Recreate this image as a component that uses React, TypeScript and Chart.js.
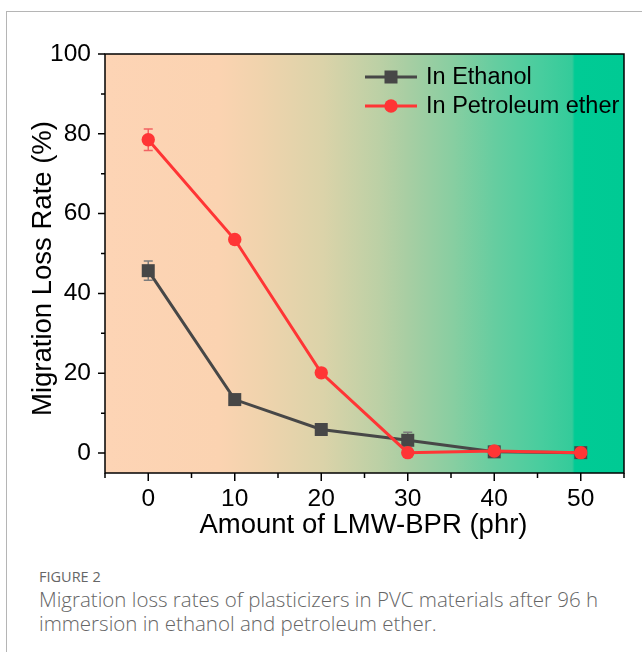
import React, { useEffect, useRef } from "react";
import { Chart, registerables } from "chart.js";

Chart.register(...registerables);

const amounts = [0, 10, 20, 30, 40, 50];
const ethanolValues = [45.7, 13.4, 5.9, 3.2, 0.3, 0.1];
const ethanolErrors = [2.4, 0.5, 0.5, 2.0, 0.5, 0.5];
const petroleumValues = [78.5, 53.5, 20.1, 0.1, 0.5, 0.1];
const petroleumErrors = [2.7, 0.5, 0.5, 0.5, 0.5, 0.5];
const seriesNames = ["In Ethanol", "In Petroleum ether"];
const xTickValues = [-5, 0, 5, 10, 15, 20, 25, 30, 35, 40, 45, 50, 55];
const xLabelValues = [0, 10, 20, 30, 40, 50];
const yTickValues = [0, 10, 20, 30, 40, 50, 60, 70, 80, 90, 100];
const yLabelValues = [0, 20, 40, 60, 80, 100];
const xTitle = "Amount of LMW-BPR (phr)";
const yTitle = "Migration Loss Rate (%)";

const FONT = '"Liberation Sans", Arial, sans-serif';
const GRAY = "#474747";
const RED = "#FF3535";

const gradientStops: [number, string][] = [
  [0, "#FDD4B5"],
  [0.22, "#FBD3B1"],
  [0.3, "#F0D3AD"],
  [0.42, "#DBD3A9"],
  [0.53, "#BBD0A5"],
  [0.58, "#A9CEA3"],
  [0.67, "#88CEA1"],
  [0.75, "#66CDA0"],
  [0.84, "#48CD9E"],
  [0.9, "#34CB9A"],
  [0.905, "#00CB95"],
  [1, "#00CA94"],
];

const decorPlugin = {
  id: "decor",
  beforeDraw(chart: any) {
    const { ctx, chartArea: a } = chart;
    ctx.save();
    const g = ctx.createLinearGradient(a.left, 0, a.right, 0);
    gradientStops.forEach(([o, c]) => g.addColorStop(o, c));
    ctx.fillStyle = g;
    ctx.fillRect(a.left, a.top, a.right - a.left, a.bottom - a.top);
    ctx.restore();
  },
  beforeDatasetsDraw(chart: any) {
    const { ctx } = chart;
    const xs = chart.scales.x;
    const ys = chart.scales.y;
    const sets = [
      { v: ethanolValues, e: ethanolErrors, c: "#7c7c7c" },
      { v: petroleumValues, e: petroleumErrors, c: "#F26262" },
    ];
    ctx.save();
    ctx.lineWidth = 1.5;
    sets.forEach((s) => {
      ctx.strokeStyle = s.c;
      amounts.forEach((a, i) => {
        const px = xs.getPixelForValue(a);
        const top = ys.getPixelForValue(s.v[i] + s.e[i]);
        const bot = ys.getPixelForValue(s.v[i] - s.e[i]);
        ctx.beginPath();
        ctx.moveTo(px, top);
        ctx.lineTo(px, bot);
        ctx.moveTo(px - 4.5, top);
        ctx.lineTo(px + 4.5, top);
        ctx.moveTo(px - 4.5, bot);
        ctx.lineTo(px + 4.5, bot);
        ctx.stroke();
      });
    });
    ctx.restore();
  },
  afterDraw(chart: any) {
    const { ctx, chartArea: a } = chart;
    const xs = chart.scales.x;
    const ys = chart.scales.y;
    ctx.save();
    ctx.strokeStyle = "#000";
    ctx.lineWidth = 1.5;
    ctx.strokeRect(a.left, a.top, a.right - a.left, a.bottom - a.top);
    ctx.beginPath();
    xTickValues.forEach((v) => {
      const px = xs.getPixelForValue(v);
      const len = xLabelValues.includes(v) ? 8 : 5;
      ctx.moveTo(px, a.bottom);
      ctx.lineTo(px, a.bottom + len);
    });
    yTickValues.forEach((v) => {
      const py = ys.getPixelForValue(v);
      const len = yLabelValues.includes(v) ? 7 : 4;
      ctx.moveTo(a.left, py);
      ctx.lineTo(a.left - len, py);
    });
    ctx.stroke();

    // axis titles
    ctx.fillStyle = "#000";
    ctx.font = `27.5px ${FONT}`;
    ctx.textAlign = "center";
    ctx.textBaseline = "alphabetic";
    ctx.fillText(xTitle, (a.left + a.right) / 2 - 1, 533);
    ctx.save();
    ctx.translate(51, (a.top + a.bottom) / 2 + 5);
    ctx.rotate(-Math.PI / 2);
    ctx.fillText(yTitle, 0, 0);
    ctx.restore();

    // legend
    const rows = [
      { name: seriesNames[0], color: GRAY, y: 77, marker: "rect" },
      { name: seriesNames[1], color: RED, y: 106, marker: "circle" },
    ];
    ctx.font = `23.5px ${FONT}`;
    ctx.textAlign = "left";
    ctx.textBaseline = "middle";
    rows.forEach((r) => {
      ctx.strokeStyle = r.color;
      ctx.lineWidth = 3;
      ctx.beginPath();
      ctx.moveTo(365, r.y);
      ctx.lineTo(417, r.y);
      ctx.stroke();
      ctx.fillStyle = r.color;
      if (r.marker === "rect") {
        ctx.fillRect(391 - 6.5, r.y - 6.5, 13, 13);
      } else {
        ctx.beginPath();
        ctx.arc(391, r.y, 6.7, 0, Math.PI * 2);
        ctx.fill();
      }
      ctx.fillStyle = "#000";
      ctx.fillText(r.name, 426, r.y + 1);
    });
    ctx.restore();
  },
};

function ChartCanvas() {
  const ref = useRef<HTMLCanvasElement | null>(null);
  useEffect(() => {
    if (!ref.current) return;
    const chart = new Chart(ref.current, {
      type: "line",
      data: {
        datasets: [
          {
            label: seriesNames[0],
            data: amounts.map((a, i) => ({ x: a, y: ethanolValues[i] })),
            borderColor: GRAY,
            backgroundColor: GRAY,
            borderWidth: 3,
            pointStyle: "rect",
            pointRadius: 9.2,
            pointBorderWidth: 0,
            order: 1,
          },
          {
            label: seriesNames[1],
            data: amounts.map((a, i) => ({ x: a, y: petroleumValues[i] })),
            borderColor: RED,
            backgroundColor: RED,
            borderWidth: 3,
            pointStyle: "circle",
            pointRadius: 6.7,
            pointBorderWidth: 0,
            order: 0,
          },
        ],
      },
      options: {
        responsive: false,
        animation: false,
        layout: { padding: { top: 54, right: 18, left: 0, bottom: 0 } },
        plugins: { legend: { display: false }, tooltip: { enabled: false } },
        scales: {
          x: {
            type: "linear",
            min: -5,
            max: 55,
            grid: { display: false, drawTicks: false },
            border: { display: false },
            ticks: {
              autoSkip: false,
              maxRotation: 0,
              padding: 12,
              color: "#000",
              font: { family: FONT, size: 24.5 },
              callback: (v: any) => (xLabelValues.includes(Number(v)) ? String(v) : ""),
            },
            afterBuildTicks: (s: any) => {
              s.ticks = xTickValues.map((v) => ({ value: v }));
            },
            afterFit: (s: any) => {
              s.height = 87;
            },
          },
          y: {
            type: "linear",
            min: -5,
            max: 100,
            grid: { display: false, drawTicks: false },
            border: { display: false },
            ticks: {
              autoSkip: false,
              padding: 14,
              color: "#000",
              font: { family: FONT, size: 24.5 },
              callback: (v: any) => (yLabelValues.includes(Number(v)) ? String(v) : ""),
            },
            afterBuildTicks: (s: any) => {
              s.ticks = yTickValues.map((v) => ({ value: v }));
            },
            afterFit: (s: any) => {
              s.width = 105;
            },
          },
        },
      },
      plugins: [decorPlugin],
    } as any);
    return () => chart.destroy();
  }, []);
  return (
    <canvas
      ref={ref}
      width={642}
      height={560}
      style={{ position: "absolute", left: 0, top: 0, display: "block" }}
    />
  );
}

export default function App() {
  return (
    <div
      style={{
        position: "absolute",
        left: 0,
        top: 0,
        width: 642,
        height: 652,
        overflow: "hidden",
        background: "#fff",
      }}
    >
      <div
        style={{
          position: "absolute",
          left: 6,
          top: 11,
          width: 700,
          height: 700,
          borderLeft: "1px solid #b5b5b5",
          borderTop: "1px solid #b5b5b5",
        }}
      />
      <ChartCanvas />
      <div
        style={{
          position: "absolute",
          left: 39,
          top: 567,
          fontFamily: '"Open Sans", "Noto Sans", sans-serif',
          fontSize: 14.5,
          lineHeight: "20px",
          color: "#666",
          letterSpacing: 0,
        }}
      >
        FIGURE 2
      </div>
      <div
        style={{
          position: "absolute",
          left: 39,
          top: 587,
          width: 600,
          fontFamily: '"Open Sans", "Noto Sans", sans-serif',
          fontSize: 20.5,
          fontWeight: 300,
          lineHeight: "24px",
          color: "#666",
          whiteSpace: "nowrap",
        }}
      >
        Migration loss rates of plasticizers in PVC materials after 96 h
        <br />
        immersion in ethanol and petroleum ether.
      </div>
    </div>
  );
}
